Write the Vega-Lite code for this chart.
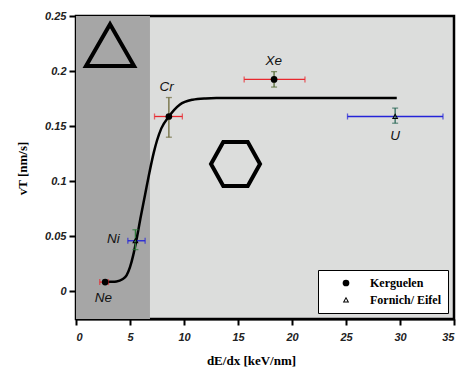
{
  "$schema": "https://vega.github.io/schema/vega-lite/v6.json",
  "width": 378,
  "height": 303,
  "autosize": "none",
  "padding": {"left": 76, "top": 16, "right": 8, "bottom": 48},
  "background": "white",
  "config": {
    "view": {"stroke": "black", "strokeWidth": 2.5, "fill": "#dcdddc"},
    "axis": {
      "grid": false,
      "domainColor": "black",
      "domainWidth": 2,
      "tickColor": "black",
      "tickWidth": 2,
      "labelFont": "Liberation Sans",
      "labelFontStyle": "italic",
      "labelFontWeight": "bold",
      "labelFontSize": 11,
      "labelColor": "#222222",
      "titleFont": "Liberation Serif",
      "titleFontWeight": "bold",
      "titleFontSize": 13,
      "titleColor": "black"
    },
    "axisX": {
      "values": [0, 5, 10, 15, 20, 25, 30, 35],
      "tickSize": 6,
      "labelPadding": 6,
      "labelFontStyle": "italic",
      "titleX": 175,
      "titleY": 35,
      "titleAlign": "center",
      "titleBaseline": "top"
    },
    "axisY": {
      "values": [-0.025, 0, 0.025, 0.05, 0.075, 0.1, 0.125, 0.15, 0.175, 0.2, 0.225, 0.25],
      "labelExpr": "abs(datum.value*20 - round(datum.value*20)) < 0.001 && datum.value > -0.01 ? format(datum.value, '~g') : ''",
      "tickSize": 6,
      "labelPadding": 3,
      "labelFontStyle": "italic",
      "titleX": -54,
      "titleY": 152,
      "titleAlign": "center",
      "titleBaseline": "middle"
    }
  },
  "datasets": {
    "regions": [{"x0": 0, "x1": 6.85, "y0": -0.025, "y1": 0.25}],
    "deco": [{"kind": "triangle", "x": 3.15, "y": 0.2235}, {"kind": "hexagon", "x": 14.77, "y": 0.1157}],
    "curve": [
      {"x": 2.7, "y": 0.0085},
      {"x": 3.2, "y": 0.0087},
      {"x": 3.75, "y": 0.009},
      {"x": 4.3, "y": 0.011},
      {"x": 4.68, "y": 0.0145},
      {"x": 5.0, "y": 0.022},
      {"x": 5.3, "y": 0.033},
      {"x": 5.6, "y": 0.047},
      {"x": 6.0, "y": 0.068},
      {"x": 6.4, "y": 0.088},
      {"x": 6.8, "y": 0.108},
      {"x": 7.2, "y": 0.126},
      {"x": 7.5, "y": 0.137},
      {"x": 7.9, "y": 0.148},
      {"x": 8.6, "y": 0.1588},
      {"x": 9.6, "y": 0.1695},
      {"x": 10.8, "y": 0.174},
      {"x": 12, "y": 0.1752},
      {"x": 13, "y": 0.1755},
      {"x": 29.7, "y": 0.1755}
    ],
    "points": [
      {"name": "Ne", "group": "Kerguelen", "x": 2.7, "y": 0.0085, "xlo": 2.2, "xhi": 3.0, "ylo": 0.0085, "yhi": 0.0085, "xcol": "#e8282e", "ycol": "#e8282e"},
      {"name": "Ni", "group": "Fornich/ Eifel", "x": 5.5, "y": 0.046, "xlo": 4.8, "xhi": 6.4, "ylo": 0.038, "yhi": 0.056, "xcol": "#2424d8", "ycol": "#2e7a3a"},
      {"name": "Cr", "group": "Kerguelen", "x": 8.6, "y": 0.1588, "xlo": 7.27, "xhi": 9.85, "ylo": 0.14, "yhi": 0.176, "xcol": "#e8282e", "ycol": "#6e6b3c"},
      {"name": "Xe", "group": "Kerguelen", "x": 18.34, "y": 0.1924, "xlo": 15.57, "xhi": 21.2, "ylo": 0.1855, "yhi": 0.1995, "xcol": "#e8282e", "ycol": "#556b35"},
      {"name": "U", "group": "Fornich/ Eifel", "x": 29.55, "y": 0.1588, "xlo": 25.14, "xhi": 33.98, "ylo": 0.1527, "yhi": 0.1664, "xcol": "#2424d8", "ycol": "#2d6b5a"}
    ],
    "labels": [
      {"label": "Ne", "x": 2.54, "y": -0.006},
      {"label": "Ni", "x": 3.46, "y": 0.0473},
      {"label": "Cr", "x": 8.4, "y": 0.1855},
      {"label": "Xe", "x": 18.3, "y": 0.2095},
      {"label": "U", "x": 29.55, "y": 0.1412}
    ]
  },
  "layer": [
    {
      "data": {"name": "regions"},
      "mark": {"type": "rect", "fill": "#a6a6a6"},
      "encoding": {
        "x": {"field": "x0", "type": "quantitative", "scale": {"domain": [0, 35], "nice": false, "zero": false}, "title": "dE/dx [keV/nm]"},
        "x2": {"field": "x1"},
        "y": {
          "field": "y0", "type": "quantitative", "scale": {"domain": [-0.025, 0.25], "nice": false, "zero": false}, "title": "vT [nm/s]",
          "axis": {"tickSize": {"condition": {"test": "abs(datum.value*20 - round(datum.value*20)) < 0.001", "value": 7}, "value": 4}}
        },
        "y2": {"field": "y1"}
      }
    },
    {
      "data": {"name": "deco"},
      "transform": [{"filter": "datum.kind == 'triangle'"}],
      "mark": {"type": "point", "shape": "M0,-0.87L1,0.87L-1,0.87Z", "size": 2304, "filled": false, "stroke": "black", "strokeWidth": 4, "opacity": 1, "strokeJoin": "miter"},
      "encoding": {
        "x": {"field": "x", "type": "quantitative", "scale": {"domain": [0, 35], "nice": false, "zero": false}, "title": "dE/dx [keV/nm]"},
        "y": {"field": "y", "type": "quantitative", "scale": {"domain": [-0.025, 0.25], "nice": false, "zero": false}, "title": "vT [nm/s]"}
      }
    },
    {
      "data": {"name": "deco"},
      "transform": [{"filter": "datum.kind == 'hexagon'"}],
      "mark": {"type": "point", "shape": "M-1,0L-0.5,-0.9L0.5,-0.9L1,0L0.5,0.9L-0.5,0.9Z", "size": 2401, "filled": false, "stroke": "black", "strokeWidth": 4, "opacity": 1, "strokeJoin": "miter"},
      "encoding": {
        "x": {"field": "x", "type": "quantitative", "scale": {"domain": [0, 35], "nice": false, "zero": false}, "title": "dE/dx [keV/nm]"},
        "y": {"field": "y", "type": "quantitative", "scale": {"domain": [-0.025, 0.25], "nice": false, "zero": false}, "title": "vT [nm/s]"}
      }
    },
    {
      "data": {"name": "curve"},
      "mark": {"type": "line", "color": "black", "strokeWidth": 2.5, "interpolate": "monotone"},
      "encoding": {
        "x": {"field": "x", "type": "quantitative", "scale": {"domain": [0, 35], "nice": false, "zero": false}, "title": "dE/dx [keV/nm]"},
        "y": {"field": "y", "type": "quantitative", "scale": {"domain": [-0.025, 0.25], "nice": false, "zero": false}, "title": "vT [nm/s]"}
      }
    },
    {
      "data": {"name": "points"},
      "mark": {"type": "errorbar", "ticks": {"size": 6}, "thickness": 1.3},
      "encoding": {
        "x": {"field": "xlo", "type": "quantitative", "scale": {"domain": [0, 35], "nice": false, "zero": false}, "title": "dE/dx [keV/nm]"},
        "x2": {"field": "xhi"},
        "y": {"field": "y", "type": "quantitative", "scale": {"domain": [-0.025, 0.25], "nice": false, "zero": false}, "title": "vT [nm/s]"},
        "color": {"field": "xcol", "type": "nominal", "scale": null, "legend": null}
      }
    },
    {
      "data": {"name": "points"},
      "transform": [{"filter": "datum.yhi > datum.ylo"}],
      "mark": {"type": "errorbar", "ticks": {"size": 6}, "thickness": 1.3},
      "encoding": {
        "y": {"field": "ylo", "type": "quantitative", "scale": {"domain": [-0.025, 0.25], "nice": false, "zero": false}, "title": "vT [nm/s]"},
        "y2": {"field": "yhi"},
        "x": {"field": "x", "type": "quantitative", "scale": {"domain": [0, 35], "nice": false, "zero": false}, "title": "dE/dx [keV/nm]"},
        "color": {"field": "ycol", "type": "nominal", "scale": null, "legend": null}
      }
    },
    {
      "data": {"name": "points"},
      "mark": {"type": "point", "size": 45, "filled": true, "color": "black", "strokeWidth": 0, "opacity": 1},
      "encoding": {
        "x": {"field": "x", "type": "quantitative", "scale": {"domain": [0, 35], "nice": false, "zero": false}, "title": "dE/dx [keV/nm]"},
        "y": {"field": "y", "type": "quantitative", "scale": {"domain": [-0.025, 0.25], "nice": false, "zero": false}, "title": "vT [nm/s]"},
        "shape": {
          "field": "group", "type": "nominal",
          "scale": {"domain": ["Kerguelen", "Fornich/ Eifel"], "range": ["circle", "M0,-1L0.95,0.75L-0.95,0.75Z M0,-0.37L-0.447,0.45L0.447,0.45Z"]},
          "legend": {
            "title": null,
            "orient": "none",
            "legendX": 242,
            "legendY": 254,
            "padding": 7,
            "fillColor": "white",
            "strokeColor": "black",
            "labelFont": "Liberation Serif",
            "labelFontWeight": "bold",
            "labelFontSize": 12,
            "labelColor": "black",
            "symbolSize": 45,
            "symbolFillColor": "black",
            "symbolStrokeWidth": 0,
            "symbolOffset": 15,
            "labelOffset": 18,
            "rowPadding": 5
          }
        }
      }
    },
    {
      "data": {"name": "labels"},
      "mark": {"type": "text", "font": "Liberation Sans", "fontStyle": "italic", "fontSize": 13.5, "color": "#111111", "align": "center", "baseline": "middle"},
      "encoding": {
        "x": {"field": "x", "type": "quantitative", "scale": {"domain": [0, 35], "nice": false, "zero": false}, "title": "dE/dx [keV/nm]"},
        "y": {"field": "y", "type": "quantitative", "scale": {"domain": [-0.025, 0.25], "nice": false, "zero": false}, "title": "vT [nm/s]"},
        "text": {"field": "label"}
      }
    }
  ]
}
